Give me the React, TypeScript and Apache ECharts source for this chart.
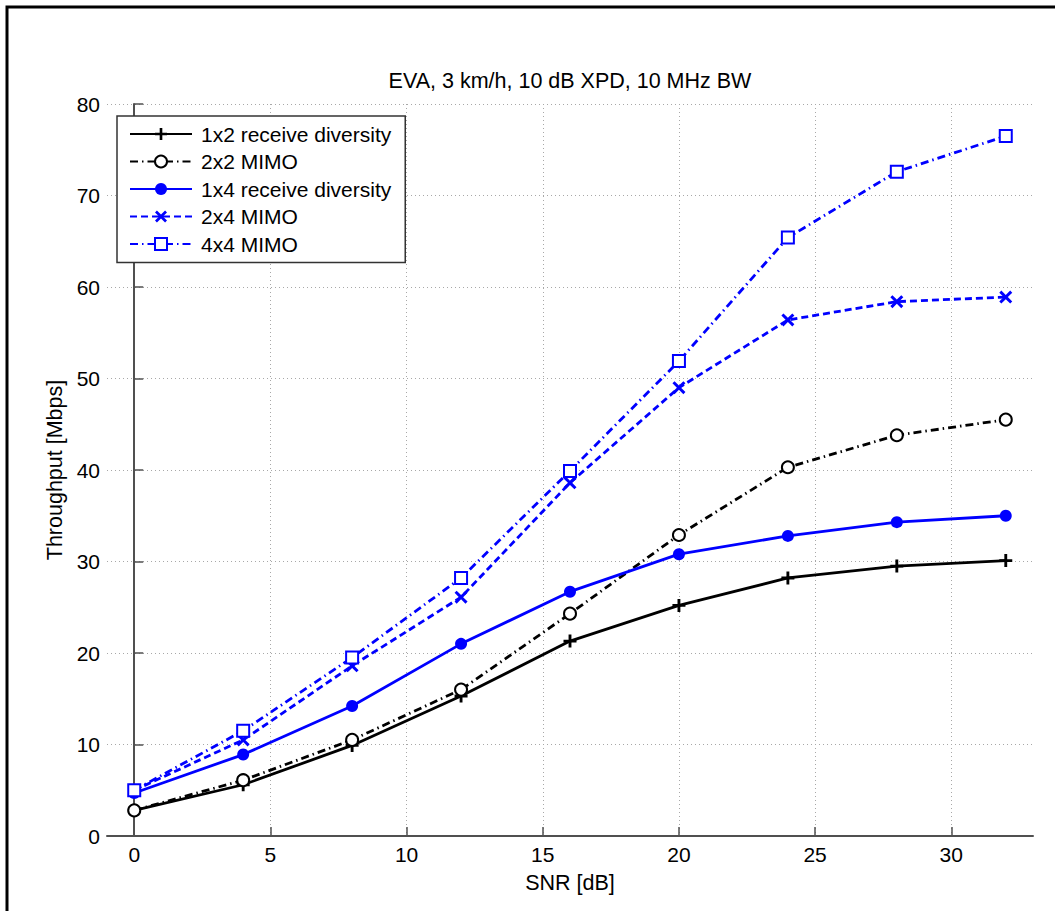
import React, { useEffect, useRef } from "react";
import * as echarts from "echarts";

// ---- data ----
const snr = [0, 4, 8, 12, 16, 20, 24, 28, 32];
const rx1x2 = [2.8, 5.6, 9.9, 15.3, 21.3, 25.2, 28.2, 29.5, 30.1];
const mimo2x2 = [2.8, 6.1, 10.5, 16.0, 24.3, 32.9, 40.3, 43.8, 45.5];
const rx1x4 = [4.7, 8.9, 14.2, 21.0, 26.7, 30.8, 32.8, 34.3, 35.0];
const mimo2x4 = [5.0, 10.5, 18.6, 26.1, 38.6, 49.0, 56.4, 58.4, 58.9];
const mimo4x4 = [5.0, 11.5, 19.5, 28.2, 39.9, 51.9, 65.4, 72.6, 76.5];
const xTicks = [0, 5, 10, 15, 20, 25, 30];
const seriesNames = [
  "1x2 receive diversity",
  "2x2 MIMO",
  "1x4 receive diversity",
  "2x4 MIMO",
  "4x4 MIMO",
];
const titleText = "EVA, 3 km/h, 10 dB XPD, 10 MHz BW";
const xName = "SNR [dB]";
const yName = "Throughput [Mbps]";

const FONT = '"Liberation Sans", Arial, Helvetica, sans-serif';
const BLUE = "#0000ff";
const AXIS = "#505050";
const PLUS = "path://M3.9,0H6.1V3.9H10V6.1H6.1V10H3.9V6.1H0V3.9H3.9Z";
const CROSS =
  "path://M1.6,0L5,3.4L8.4,0L10,1.6L6.6,5L10,8.4L8.4,10L5,6.6L1.6,10L0,8.4L3.4,5L0,1.6Z";
const DASHDOT = [8, 4, 1.5, 4];
const DASH = [7, 4];
const LW = 2.8;

const pairs = (ys: number[]) => snr.map((x, i) => [x, ys[i]]);

export default function App() {
  const ref = useRef<HTMLDivElement>(null);
  useEffect(() => {
    const chart = echarts.init(ref.current!, null, { renderer: "svg" });
    const option: any = {
      animation: false,
      backgroundColor: "#fff",
      textStyle: { fontFamily: FONT },
      grid: { left: 107, right: 22, top: 104, bottom: 75 },
      graphic: [
        {
          type: "rect",
          silent: true,
          z: 100,
          shape: { x: 7, y: 7, width: 1400, height: 1400 },
          style: { fill: "none", stroke: "#000", lineWidth: 3 },
        },
        {
          type: "text",
          x: 570,
          y: 81,
          silent: true,
          style: {
            text: titleText,
            fill: "#000",
            fontSize: 21.5,
            fontFamily: FONT,
            align: "center",
            verticalAlign: "middle",
          },
        },
      ],
      legend: {
        orient: "vertical",
        left: 117,
        top: 116,
        padding: [7.5, 14, 8, 12],
        itemWidth: 62,
        itemHeight: 15,
        itemGap: 6.5,
        borderColor: "#333",
        borderWidth: 1.5,
        backgroundColor: "#fff",
        selectedMode: false,
        textStyle: { fontSize: 21, lineHeight: 21, color: "#000", fontFamily: FONT, padding: [0, 0, 0, 4] },
        data: seriesNames,
      },
      xAxis: {
        type: "value",
        min: -1,
        max: 33,
        axisLine: { show: true, onZero: false, lineStyle: { color: AXIS, width: 2 } },
        axisTick: {
          show: true,
          inside: true,
          length: 9,
          customValues: xTicks,
          lineStyle: { color: AXIS, width: 1.5 },
        },
        axisLabel: {
          customValues: xTicks,
          margin: 8,
          fontSize: 21,
          color: "#000",
          fontFamily: FONT,
        },
        splitLine: { show: true, lineStyle: { color: "#a8a8a8", width: 1, type: [1, 3] } },
        name: xName,
        nameLocation: "middle",
        nameGap: 36,
        nameTextStyle: { fontSize: 21.5, color: "#000", fontFamily: FONT },
      },
      yAxis: {
        type: "value",
        min: 0,
        max: 80,
        interval: 10,
        axisLine: { show: true, lineStyle: { color: AXIS, width: 2 } },
        axisTick: { show: true, inside: true, length: 9, lineStyle: { color: AXIS, width: 1.5 } },
        axisLabel: { margin: 7, fontSize: 21, color: "#000", fontFamily: FONT },
        splitLine: { show: true, lineStyle: { color: "#a8a8a8", width: 1, type: [1, 3] } },
        name: yName,
        nameLocation: "middle",
        nameGap: 41,
        nameTextStyle: { fontSize: 21.5, color: "#000", fontFamily: FONT },
      },
      series: [
        {
          name: seriesNames[0],
          type: "line",
          data: pairs(rx1x2),
          symbol: PLUS,
          symbolSize: 13,
          lineStyle: { color: "#000", width: LW, type: "solid" },
          itemStyle: { color: "#000" },
        },
        {
          name: seriesNames[1],
          type: "line",
          data: pairs(mimo2x2),
          symbol: "emptyCircle",
          symbolSize: 12,
          lineStyle: { color: "#000", width: LW, type: DASHDOT },
          itemStyle: { color: "#000", borderWidth: 3 },
        },
        {
          name: seriesNames[2],
          type: "line",
          data: pairs(rx1x4),
          symbol: "circle",
          symbolSize: 12,
          lineStyle: { color: BLUE, width: LW, type: "solid" },
          itemStyle: { color: BLUE },
        },
        {
          name: seriesNames[3],
          type: "line",
          data: pairs(mimo2x4),
          symbol: CROSS,
          symbolSize: 13,
          lineStyle: { color: BLUE, width: LW, type: DASH },
          itemStyle: { color: BLUE },
        },
        {
          name: seriesNames[4],
          type: "line",
          data: pairs(mimo4x4),
          symbol: "emptyRect",
          symbolSize: 12,
          lineStyle: { color: BLUE, width: LW, type: DASHDOT },
          itemStyle: { color: BLUE, borderWidth: 3 },
        },
      ],
    };
    chart.setOption(option);
    return () => chart.dispose();
  }, []);
  return (
    <div
      ref={ref}
      style={{ position: "fixed", left: 0, top: 0, width: 1055, height: 911, background: "#fff" }}
    />
  );
}
